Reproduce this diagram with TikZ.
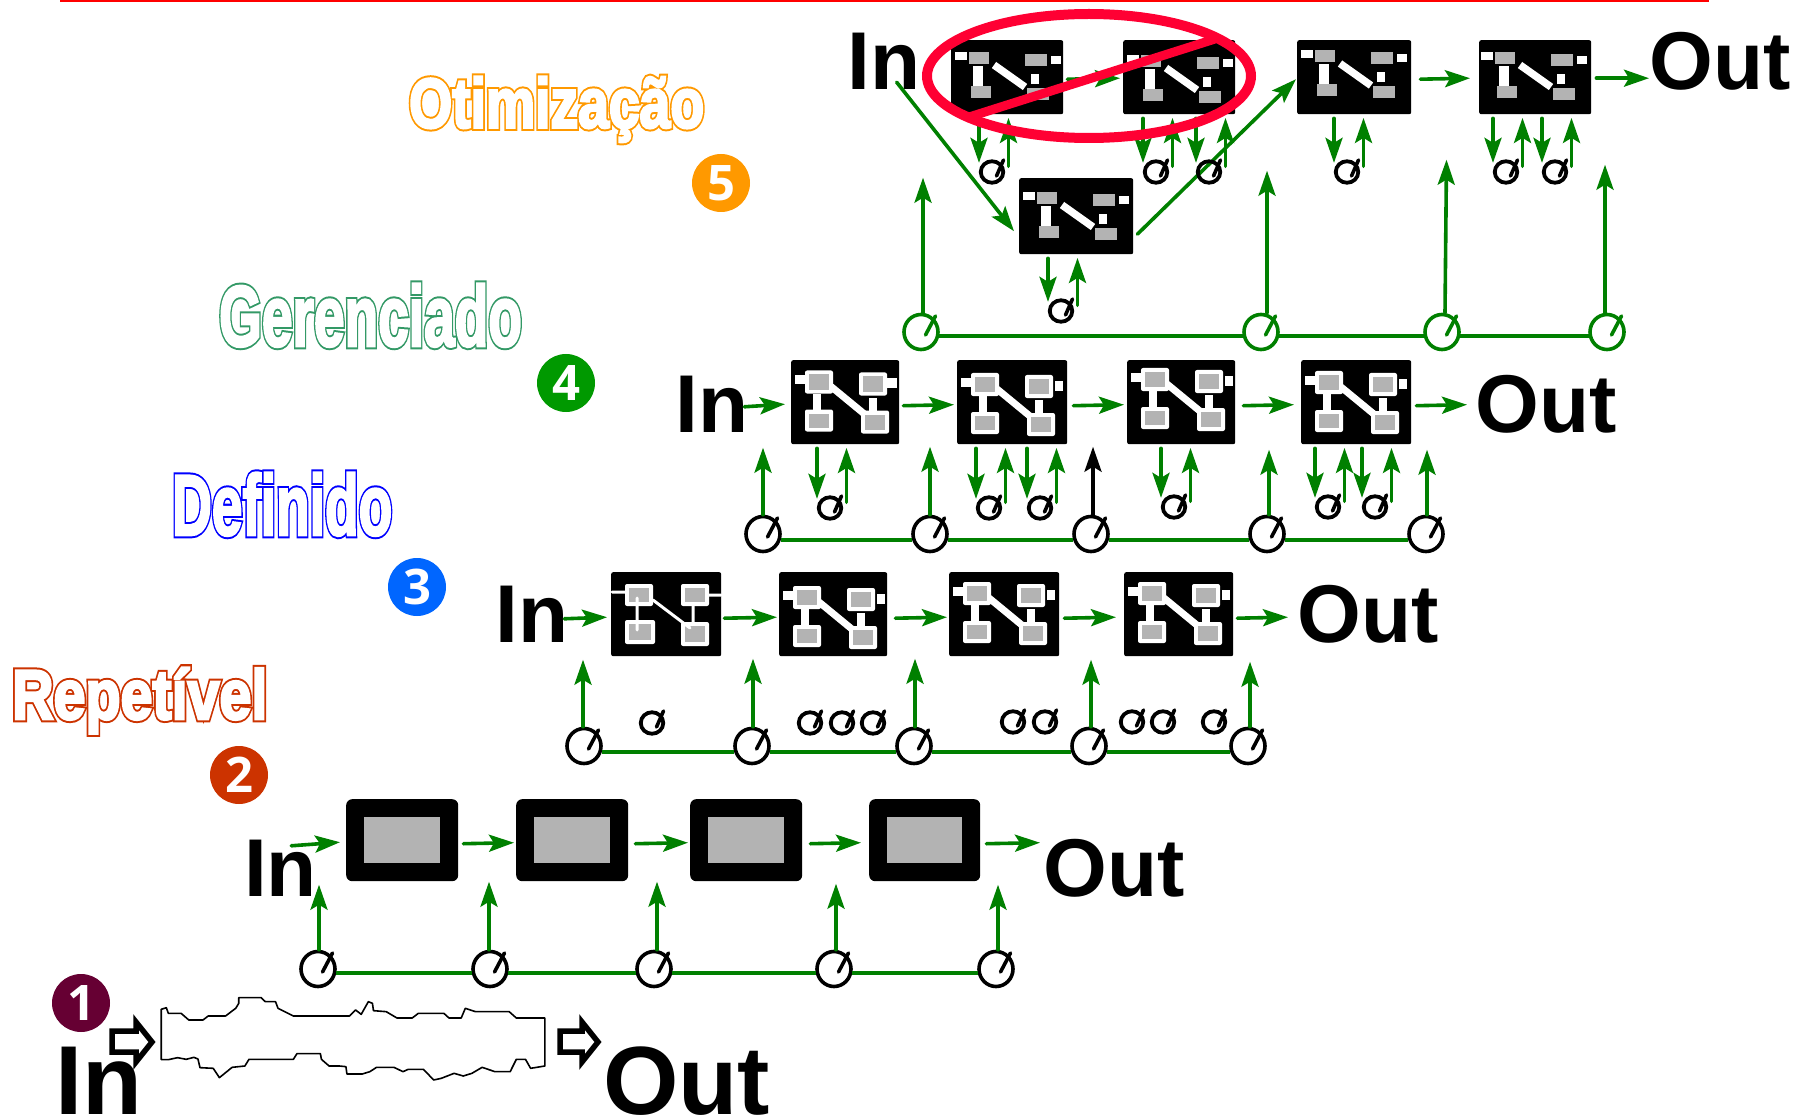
\documentclass[tikz,border=0pt]{standalone}
\usepackage{fontspec}
\setmainfont{Liberation Sans}
\newfontfamily\digitfont{Open Sans}
\usetikzlibrary{arrows.meta,shapes.geometric}
\definecolor{gry}{HTML}{B3B3B3}
\definecolor{grn}{HTML}{008000}
\definecolor{banred}{HTML}{FF0033}
\definecolor{corange}{HTML}{FF9900}
\definecolor{cgreen}{HTML}{009900}
\definecolor{cblue}{HTML}{0066FF}
\definecolor{cred}{HTML}{CC3300}
\definecolor{cwine}{HTML}{660033}
\definecolor{tgreen}{HTML}{339966}
\definecolor{tblue}{HTML}{0000FF}
\tikzset{
  garr/.style={draw=grn,line width=3.6,line cap=round,-{Stealth[length=25pt,width=17pt,inset=5pt]}},
  barr/.style={garr,draw=black,-{Stealth[length=25pt,width=17pt,inset=5pt,fill=black]}},
  gbar/.style={draw=grn,line width=3.6},
  blk/.style={fill=black,draw=none,rounded corners=2,inner sep=0,anchor=north west},
  bigbox/.style={fill=black,draw=none,rounded corners=6,inner sep=0,anchor=north west},
  biggauge/.style={draw=black,ellipse,line width=3.6,inner sep=0,minimum width=34,minimum height=35},
  smallgauge/.style={draw=black,ellipse,line width=3.8,inner sep=0,minimum width=22.5,minimum height=21.5},
  needle/.style={line width=3.6,line cap=round},
  inout/.style={inner sep=0,anchor=base west,font=\bfseries\fontsize{82}{82}\selectfont},
  inoutbig/.style={inner sep=0,anchor=base west,font=\bfseries\fontsize{98}{98}\selectfont},
  badge/.style={circle,inner sep=0,minimum size=58,text=white,font=\digitfont\bfseries\fontsize{49}{49}\selectfont},
  lvl/.style={inner sep=0,anchor=base west,font=\bfseries\fontsize{#1}{#1}\selectfont},
  blockarrow/.style={draw=black,fill=white,line width=5.5,miter limit=8},
  wave/.style={draw=black,line width=1.6,line join=round},
}
\newcommand\wrect[4]{\fill[white] (#1,#2) rectangle (#3,#4);}
\newcommand\grect[4]{\fill[gry] (#1,#2) rectangle (#3,#4);}
\newcommand\frm[4]{\fill[white,rounded corners=2] (#1,#2) rectangle (#3,#4);\fill[gry] (#1+4,#2+4) rectangle (#3-4,#4-4);}
% plain-wired box: name,x,y,w,h,dx,dy
\newcommand\boxA[7]{%
  \node[blk,minimum width=#4,minimum height=#5] (#1) at (#2,#3) {};
  \begin{scope}[shift={(#2+#6,#3+#7)}]
    \wrect{4}{12}{16}{20}\grect{18}{12}{38}{24}\wrect{22}{26}{32}{47}\grect{20}{46}{40}{58}
    \draw[white,line width=7.5] (43,25) -- (74,47);
    \wrect{80}{34}{88}{44}\grect{74}{14}{96}{26}\wrect{100}{16}{110}{24}\grect{76}{48}{98}{60}
  \end{scope}}
% framed box: name,x,y,w,h,dy,port start
\newcommand\boxB[7]{%
  \node[blk,minimum width=#4,minimum height=#5] (#1) at (#2,#3) {};
  \begin{scope}[shift={(#2,#3+#6)}]
    \wrect{4}{18}{14}{27}\frm{14}{13}{42}{36}\frm{14}{52}{42}{74}
    \wrect{22}{36}{30}{56}
    \draw[white,line width=7] (40,29) -- (74,57);
    \frm{68}{15}{96}{38}\wrect{#7}{21}{106}{31}\wrect{78}{40}{86}{54}\frm{70}{53}{98}{76}
  \end{scope}}
% thin-wired box
\newcommand\boxC[5]{%
  \node[blk,minimum width=#4,minimum height=#5] (#1) at (#2,#3) {};
  \begin{scope}[shift={(#2,#3)}]
    \frm{14}{12}{42}{34}\frm{14}{48}{44}{72}\frm{70}{12}{98}{34}\frm{70}{50}{98}{74}
    \draw[white,line width=3,line cap=round] (1,20) -- (14,20) (26,26) -- (26,58) (42,28) -- (79,56) (98,23) -- (110,23) (82,34) -- (82,50);
  \end{scope}}
\newcommand\bgauge[4][black]{%
  \node[biggauge,draw=#1] (#2) at (#3,#4) {};
  \draw[needle,draw=#1] ([shift={(4.5,3)}]#2.center) -- ([shift={(14.5,-16)}]#2.center);}
\newcommand\sgauge[3]{%
  \node[smallgauge] (#1) at (#2,#3) {};
  \draw[needle] ([shift={(4.5,4)}]#1.center) -- ([shift={(11.5,-12)}]#1.center);}
% horizontal connector: from,sx,to,tx,dy
\newcommand\hc[5]{\draw[garr] ([shift={(#2,#5+1)}]#1.east) -- ([shift={(#4,#5)}]#3.west);}
% upward connector from a big gauge: gauge,dx,length
\newcommand\upc[4][garr]{\draw[#1] ([shift={(#3,0)}]#2.north) -- ++(0,-#4);}
% pair between a box and a small gauge
\newcommand\dnup[2]{%
  \draw[garr] ([shift={(-13,4)}]#2.north |- #1.south) -- ([shift={(-13,3.5)}]#2.north);
  \draw[garr] ([shift={(16.5,7)}]#2.north) -- ([shift={(16.5,3.5)}]#2.north |- #1.south);}
% outlined title: colour, text (fat coloured stroke, then white core)
\newcommand\outl[2]{\rlap{\color{#1}\special{pdf:code q 2 Tr 6.8 w}#2\special{pdf:code Q}}{\color{white}\special{pdf:code q 2 Tr 2.8 w}#2\special{pdf:code Q}}}
\begin{document}
\begin{tikzpicture}[x=1pt,y=-1pt]
\useasboundingbox (0,0) rectangle (1808,1115);
\fill[white] (0,0) rectangle (1808,1115);
\draw[red,line width=2] (60,1) -- (1709,1);

% level titles
\node[lvl=70,xscale=.79,transform shape] (t5) at (409,127.5) {\outl{corange}{Otimização}};
\node[lvl=86,xscale=.64,transform shape] (t4) at (219,346) {\outl{tgreen}{Gerenciado}};
\node[lvl=86,xscale=.64,transform shape] (t3) at (172,535) {\outl{tblue}{Definido}};
\node[lvl=70,xscale=.82,transform shape] (t2) at (12,719) {\outl{cred}{Repetível}};

% badges
\node[badge,fill=corange] (n5) at (721,183) {5};
\node[badge,fill=cgreen] (n4) at (566,383) {4};
\node[badge,fill=cblue] (n3) at (417,587) {3};
\node[badge,fill=cred] (n2) at (239,775) {2};
\node[badge,fill=cwine] (n1) at (81,1003) {1};

% level 5
\node[inout] (in5) at (847,90) {In};
\node[inout] (out5) at (1649,90) {Out};
\boxA{b51}{951}{40}{112}{74}{0}{0}
\boxA{b52}{1123}{40}{112}{74}{0}{3}
\boxA{b53}{1297}{40}{114}{74}{0}{-1.5}
\boxA{b54}{1479}{40}{112}{74}{-2}{0}
\boxA{b5e}{1019}{178}{114}{76}{0}{2}
\hc{b51}{4}{b52}{-3}{1}
\hc{b53}{9}{b54}{-9}{1}
\draw[garr] ([shift={(5,1)}]b54.east) -- ([shift={(0,1)}]out5.west |- b54.east);
\draw[garr] ([shift={(13,-8)}]in5.south) -- ([shift={(-5,15)}]b5e.west);
\draw[garr] ([shift={(4,18)}]b5e.east) -- ([shift={(-1,2)}]b53.west);
\sgauge{s51}{992}{172}\sgauge{s52}{1156}{172}\sgauge{s53}{1209}{172}
\sgauge{s5e}{1061}{311}\sgauge{s5c}{1347}{172}\sgauge{s5d}{1506}{172}\sgauge{s5f}{1555}{172}
\dnup{b51}{s51}\dnup{b52}{s52}\dnup{b52}{s53}\dnup{b5e}{s5e}\dnup{b53}{s5c}\dnup{b54}{s5d}\dnup{b54}{s5f}
\bgauge[grn]{g51}{921}{332}\bgauge[grn]{g52}{1261}{332}\bgauge[grn]{g53}{1442}{332}\bgauge[grn]{g54}{1607}{332}
\draw[gbar] ([shift={(-1,4)}]g51.east) -- ([shift={(1,4)}]g52.west);
\draw[gbar] ([shift={(-1,4)}]g52.east) -- ([shift={(1,4)}]g53.west);
\draw[gbar] ([shift={(-1,4)}]g53.east) -- ([shift={(1,4)}]g54.west);
\upc{g51}{2}{135}\upc{g52}{6}{142}\draw[garr] ([shift={(3,0)}]g53.north) -- ++(1.5,-153);\upc{g54}{-2}{148}
% prohibition mark
\node[ellipse,draw=banred,line width=10,inner sep=0,minimum width=324,minimum height=124] (ban) at (1089,76) {};
\coordinate (banA) at (966,118);
\coordinate (banB) at (1215,39);
\draw[draw=banred,line width=9] (banA) -- (banB);

% level 4
\node[inout] (in4) at (675,432) {In};
\node[inout] (out4) at (1475,432) {Out};
\boxB{b41}{791}{360}{108}{84}{-2.5}{94}
\boxB{b42}{957}{360}{110}{84}{0}{98}
\boxB{b43}{1127}{360}{108}{84}{-5}{98}
\boxB{b44}{1301}{360}{110}{84}{-2}{98}
\draw[garr] ([shift={(-4,3)}]in4.east) -- ([shift={(-6,2)}]b41.west);
\hc{b41}{4}{b42}{-3}{2.5}\hc{b42}{6}{b43}{-3}{2.5}\hc{b43}{8}{b44}{-7}{2.5}
\draw[garr] ([shift={(5,3.5)}]b44.east) -- ([shift={(-8,2.5)}]out4.west |- b44.east);
\sgauge{s41}{830}{508}\sgauge{s42}{989}{508}\sgauge{s43}{1040}{508}\sgauge{s44}{1174}{507}\sgauge{s45}{1328}{507}\sgauge{s46}{1375}{507}
\dnup{b41}{s41}\dnup{b42}{s42}\dnup{b42}{s43}\dnup{b43}{s44}\dnup{b44}{s45}\dnup{b44}{s46}
\bgauge{g41}{763}{534}\bgauge{g42}{930}{534}\bgauge{g43}{1091}{534}\bgauge{g44}{1267}{534}\bgauge{g45}{1426}{534}
\draw[gbar] ([shift={(-1,6)}]g41.east) -- ([shift={(1,6)}]g42.west);
\draw[gbar] ([shift={(-1,6)}]g42.east) -- ([shift={(1,6)}]g43.west);
\draw[gbar] ([shift={(-1,6)}]g43.east) -- ([shift={(1,6)}]g44.west);
\draw[gbar] ([shift={(-1,6)}]g44.east) -- ([shift={(1,6)}]g45.west);
\upc{g41}{0}{67}\upc{g42}{0}{68}\upc[barr]{g43}{2}{68}\upc{g44}{2}{65}\upc{g45}{1}{65}

% level 3
\node[inout] (in3) at (495,642) {In};
\node[inout] (out3) at (1297,642) {Out};
\boxC{b31}{611}{572}{110}{84}
\boxB{b32}{779}{572}{108}{84}{1}{98}
\boxB{b33}{949}{572}{110}{84}{-3}{98}
\boxB{b34}{1124}{572}{109}{84}{-3}{98}
\draw[garr] ([shift={(-4,5)}]in3.east) -- ([shift={(-4,3)}]b31.west);
\hc{b31}{3}{b32}{-2}{3}\hc{b32}{8}{b33}{-2}{3}\hc{b33}{5}{b34}{-8}{3}
\draw[garr] ([shift={(4,4)}]b34.east) -- ([shift={(-9,3)}]out3.west |- b34.east);
\sgauge{s31}{652}{723}\sgauge{s32}{810}{723}\sgauge{s33}{842}{723}\sgauge{s34}{873}{723}
\sgauge{s35}{1013}{722}\sgauge{s36}{1045}{722}\sgauge{s37}{1132}{722}\sgauge{s38}{1163}{722}\sgauge{s39}{1214}{722}
\bgauge{g31}{584}{746}\bgauge{g32}{752}{746}\bgauge{g33}{914}{746}\bgauge{g34}{1089}{746}\bgauge{g35}{1248}{746}
\draw[gbar] ([shift={(-1,6)}]g31.east) -- ([shift={(1,6)}]g32.west);
\draw[gbar] ([shift={(-1,6)}]g32.east) -- ([shift={(1,6)}]g33.west);
\draw[gbar] ([shift={(-1,6)}]g33.east) -- ([shift={(1,6)}]g34.west);
\draw[gbar] ([shift={(-1,6)}]g34.east) -- ([shift={(1,6)}]g35.west);
\upc{g31}{-1}{67}\upc{g32}{1}{68}\upc{g33}{1}{68}\upc{g34}{2}{67}\upc{g35}{2}{65}

% level 2
\node[inout] (in2) at (244,896) {In};
\node[inout] (out2) at (1043,896) {Out};
\node[bigbox,minimum width=112,minimum height=82] (b21) at (346,799) {};
\node[bigbox,minimum width=112,minimum height=82] (b22) at (516,799) {};
\node[bigbox,minimum width=112,minimum height=82] (b23) at (690,799) {};
\node[bigbox,minimum width=111,minimum height=82] (b24) at (869,799) {};
\fill[gry] (364,817) rectangle (440,863);
\fill[gry] (534,817) rectangle (610,863);
\fill[gry] (708,817) rectangle (784,863);
\fill[gry] (887,817) rectangle (962,863);
\draw[garr] ([shift={(-26,-22)}]in2.east) -- ([shift={(-6,2)}]b21.west);
\hc{b21}{5}{b22}{-2}{2.5}\hc{b22}{7}{b23}{-2}{2.5}\hc{b23}{8}{b24}{-8}{2.5}
\draw[garr] ([shift={(6,3.5)}]b24.east) -- ([shift={(-3,2.5)}]out2.west |- b24.east);
\bgauge{g21}{318}{969}\bgauge{g22}{490}{969}\bgauge{g23}{654}{969}\bgauge{g24}{834}{969}\bgauge{g25}{996}{969}
\draw[gbar] ([shift={(-1,4)}]g21.east) -- ([shift={(1,4)}]g22.west);
\draw[gbar] ([shift={(-1,4)}]g22.east) -- ([shift={(1,4)}]g23.west);
\draw[gbar] ([shift={(-1,4)}]g23.east) -- ([shift={(1,4)}]g24.west);
\draw[gbar] ([shift={(-1,4)}]g24.east) -- ([shift={(1,4)}]g25.west);
\upc{g21}{1}{65}\upc{g22}{-1}{68}\upc{g23}{3}{68}\upc{g24}{2}{66}\upc{g25}{2}{65}

% level 1
\node[inoutbig] (in1) at (55,1114) {In};
\node[inoutbig,font=\bfseries\fontsize{97}{97}\selectfont] (out1) at (603,1114) {Out};
\begin{scope}[shift={(0,960)},x=0.5102pt,y=-0.3333pt]
\draw[wave] (316,148) -- (326,143) -- (330,160) -- (355,160) -- (370,180) -- (398,180) -- (408,168) -- (442,168) -- (462,145) -- (468,130) -- (468,113) -- (512,113) -- (520,125) -- (540,125) -- (545,145) -- (575,168) -- (685,168) -- (697,150) -- (708,163) -- (722,125) -- (730,130) -- (732,152) -- (757,155) -- (778,174) -- (808,174) -- (820,160) -- (870,160) -- (880,174) -- (904,174) -- (912,145) -- (932,155) -- (998,155) -- (1012,174) -- (1068,174) -- (1068,318) -- (1040,325) -- (1030,298) -- (1012,298) -- (1000,335) -- (970,335) -- (945,322) -- (925,340) -- (908,348) -- (890,340) -- (865,355) -- (850,360) -- (830,328) -- (800,328) -- (790,335) -- (772,322) -- (738,322) -- (725,335) -- (710,342) -- (680,342) -- (678,320) -- (665,318) -- (645,318) -- (630,298) -- (628,281) -- (582,281) -- (575,298) -- (488,298) -- (480,318) -- (455,322) -- (430,353) -- (418,325) -- (392,323) -- (388,297) -- (380,292) -- (365,298) -- (348,293) -- (330,299) -- (316,299) -- cycle;
\end{scope}
\draw[blockarrow] (112,1031) -- (136,1031) -- (136,1022) -- (152,1042) -- (136,1062) -- (136,1052) -- (112,1052) -- cycle;
\draw[blockarrow] (560,1031) -- (582,1031) -- (582,1022) -- (598,1042) -- (582,1062) -- (582,1052) -- (560,1052) -- cycle;
\end{tikzpicture}
\end{document}
